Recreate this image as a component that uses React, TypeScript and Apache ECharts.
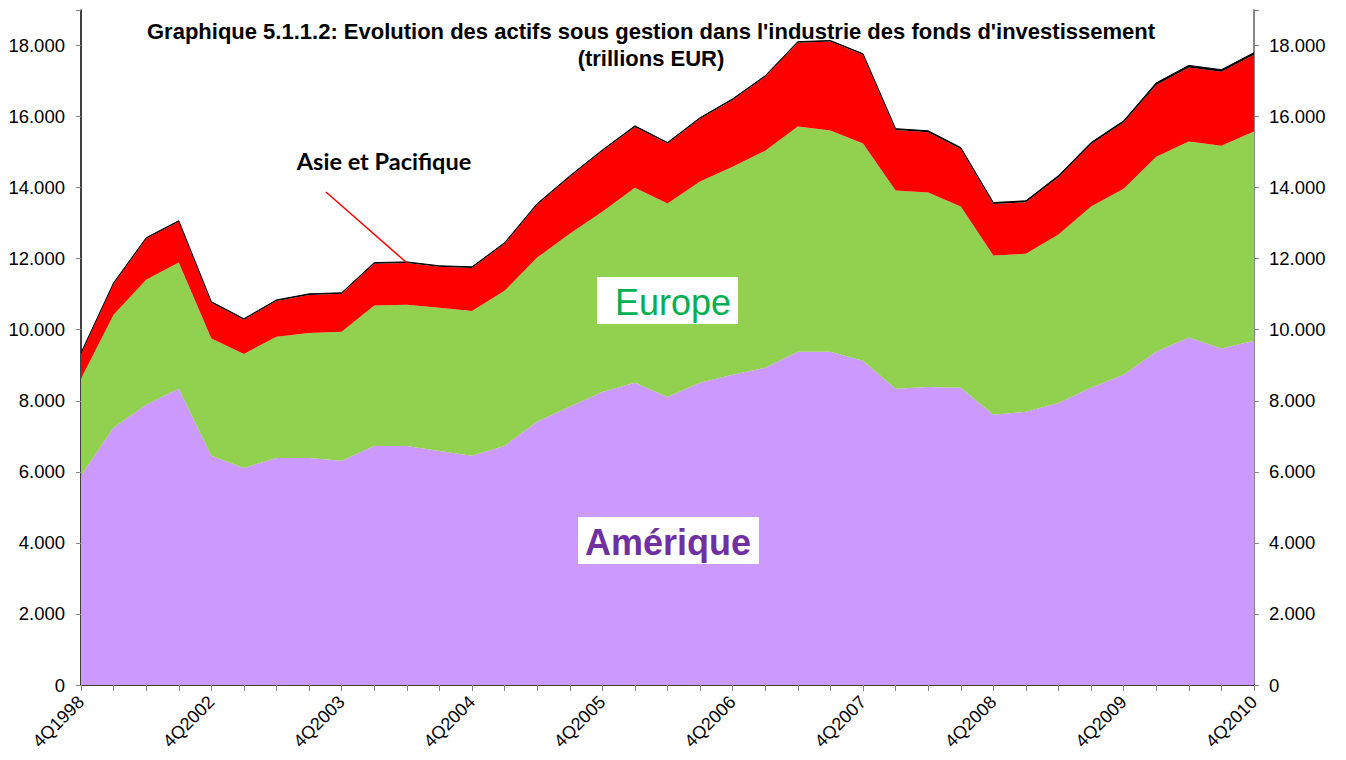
import React, { useEffect, useRef } from "react";
import * as echarts from "echarts";

const categories = [
  "4Q1998", "4Q1999", "4Q2000", "4Q2001", "4Q2002",
  "1Q2003", "2Q2003", "3Q2003", "4Q2003",
  "1Q2004", "2Q2004", "3Q2004", "4Q2004",
  "1Q2005", "2Q2005", "3Q2005", "4Q2005",
  "1Q2006", "2Q2006", "3Q2006", "4Q2006",
  "1Q2007", "2Q2007", "3Q2007", "4Q2007",
  "1Q2008", "2Q2008", "3Q2008", "4Q2008",
  "1Q2009", "2Q2009", "3Q2009", "4Q2009",
  "1Q2010", "2Q2010", "3Q2010", "4Q2010",
];

const amerique = [
  5900, 7240, 7890, 8340, 6450, 6110, 6390, 6390, 6310, 6730, 6730, 6590, 6450,
  6730, 7410, 7830, 8250, 8510, 8110, 8510, 8730, 8930, 9380, 9380, 9130, 8340,
  8390, 8370, 7610, 7690, 7940, 8370, 8730, 9380, 9780, 9470, 9690,
];

const europe = [
  2720, 3180, 3520, 3550, 3300, 3210, 3410, 3520, 3630, 3950, 3970, 4030, 4080,
  4370, 4620, 4870, 5070, 5490, 5440, 5660, 5860, 6110, 6340, 6230, 6110, 5580,
  5470, 5100, 4480, 4450, 4740, 5100, 5240, 5490, 5520, 5710, 5890,
];

const asiePacifique = [
  700, 870, 1150, 1150, 1010, 960, 1010, 1070, 1070, 1180, 1180, 1150, 1210,
  1320, 1490, 1600, 1710, 1710, 1690, 1770, 1880, 2080, 2360, 2500, 2500, 1700,
  1700, 1620, 1450, 1450, 1610, 1750, 1860, 2020, 2080, 2080, 2160,
];

const autres = [
  30, 30, 30, 30, 30, 30, 30, 30, 30, 30, 30, 30, 30,
  30, 30, 30, 30, 30, 30, 30, 30, 30, 30, 30, 30, 40,
  40, 40, 40, 40, 50, 50, 50, 60, 60, 60, 60,
];

const yTicks = { min: 0, max: 19000, interval: 2000 };

const fmt = (v: number) => {
  if (v > 18000) return "";
  if (v === 0) return "0";
  return Math.round(v / 1000) + ".000";
};

export default function App() {
  const ref = useRef<HTMLDivElement>(null);

  useEffect(() => {
    if (!ref.current) return;
    const chart = echarts.init(ref.current, undefined, { renderer: "svg" });
    const axisFont = { fontFamily: "'Liberation Sans', Arial, sans-serif", color: "#000" };
    const areaSeries = (name: string, data: number[], color: string, line: any) => ({
      name,
      type: "line",
      stack: "total",
      data,
      symbol: "none",
      smooth: false,
      lineStyle: line,
      areaStyle: { color, opacity: 1 },
      itemStyle: { color },
      emphasis: { disabled: true },
    });
    chart.setOption({
      animation: false,
      backgroundColor: "#fff",
      grid: { left: 81, right: 92, top: 10, bottom: 75, containLabel: false },
      xAxis: {
        type: "category",
        data: categories,
        boundaryGap: false,
        axisLine: { show: true, lineStyle: { color: "#000", width: 1.5 } },
        axisTick: { show: true, interval: 0, length: 6, lineStyle: { color: "#868686" } },
        axisLabel: {
          ...axisFont,
          fontSize: 18,
          rotate: 45,
          margin: 14,
          interval: (i: number) => i === 0 || (i >= 4 && (i - 4) % 4 === 0),
        },
        splitLine: { show: false },
      },
      yAxis: [
        {
          type: "value",
          position: "left",
          ...yTicks,
          axisLine: { show: true, lineStyle: { color: "#000", width: 1.5 } },
          axisTick: { show: true, length: 5, lineStyle: { color: "#868686" } },
          axisLabel: { ...axisFont, fontSize: 18.5, margin: 16, formatter: fmt },
          splitLine: { show: false },
        },
        {
          type: "value",
          position: "right",
          ...yTicks,
          axisLine: { show: true, lineStyle: { color: "#868686", width: 2 } },
          axisTick: { show: true, length: 5, lineStyle: { color: "#868686" } },
          axisLabel: { ...axisFont, fontSize: 18.5, margin: 15, formatter: fmt },
          splitLine: { show: false },
        },
      ],
      series: [
        areaSeries("Amérique", amerique, "#CC99FF", { width: 0 }),
        areaSeries("Europe", europe, "#92D050", { width: 0 }),
        areaSeries("Asie et Pacifique", asiePacifique, "#FF0000", { width: 0 }),
        areaSeries("Autres", autres, "#000000", { width: 1, color: "#000" }),
      ],
      graphic: [
        {
          type: "text",
          z: 100,
          style: {
            text: "Graphique 5.1.1.2: Evolution des actifs sous gestion dans l'industrie des fonds d'investissement",
            x: 651,
            y: 31,
            textAlign: "center",
            textVerticalAlign: "middle",
            font: "bold 22px 'Liberation Sans', Arial, sans-serif",
            fill: "#000",
          },
        },
        {
          type: "text",
          z: 100,
          style: {
            text: "(trillions EUR)",
            x: 651,
            y: 58,
            textAlign: "center",
            textVerticalAlign: "middle",
            font: "bold 22px 'Liberation Sans', Arial, sans-serif",
            fill: "#000",
          },
        },
        {
          type: "text",
          z: 100,
          style: {
            text: "Asie et Pacifique",
            x: 384,
            y: 161,
            textAlign: "center",
            textVerticalAlign: "middle",
            font: "bold 23.5px Lato, 'Open Sans', sans-serif",
            fill: "#000",
          },
        },
        {
          type: "line",
          z: 100,
          shape: { x1: 326, y1: 192, x2: 407, y2: 263 },
          style: { stroke: "#FF0000", lineWidth: 1.5 },
        },
        {
          type: "rect",
          z: 100,
          shape: { x: 597, y: 277, width: 141, height: 47 },
          style: { fill: "#fff" },
        },
        {
          type: "text",
          z: 101,
          style: {
            text: "Europe",
            x: 673,
            y: 302,
            textAlign: "center",
            textVerticalAlign: "middle",
            font: "36px 'Liberation Sans', Arial, sans-serif",
            fill: "#00B050",
          },
        },
        {
          type: "rect",
          z: 100,
          shape: { x: 578, y: 517, width: 181, height: 47 },
          style: { fill: "#fff" },
        },
        {
          type: "text",
          z: 101,
          style: {
            text: "Amérique",
            x: 668,
            y: 542,
            textAlign: "center",
            textVerticalAlign: "middle",
            font: "bold 36px 'Liberation Sans', Arial, sans-serif",
            fill: "#7030A0",
          },
        },
      ],
    });
    return () => chart.dispose();
  }, []);

  return (
    <div
      ref={ref}
      style={{ position: "fixed", left: 0, top: 0, width: 1346, height: 760, background: "#fff" }}
    />
  );
}
